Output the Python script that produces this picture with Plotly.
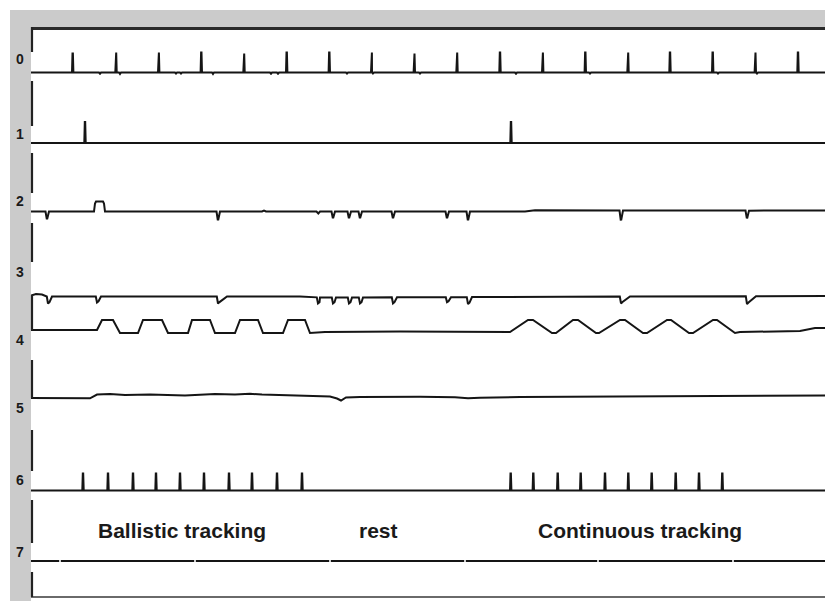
import numpy as np
import plotly.graph_objects as go

# ---------------- data (x: time in screen-sample units, values: deflection, up = positive) -------------
X0, X1 = 31, 833
channel_names = ["0", "1", "2", "3", "4", "5", "6", "7"]

# channel 0 : regular spike train
ch0_spike_t = [72.7, 116, 158.7, 201.3, 244, 286.7, 329.3, 371.7, 414.3, 457, 500, 542.7,
               585.3, 628, 670, 712.7, 755.3, 798]
ch0_spike_h = [19, 20, 20, 20, 19, 20, 20, 20, 19, 20, 20, 20, 20, 20, 20, 20, 20, 20]
ch0_blip_t = [100, 120, 176, 181, 213, 271, 278, 347, 373, 420, 516, 590, 718, 757]
ch0_blip_d = [1.2, 1.5, 1.0, 1.0, 1.5, 1.2, 1.2, 1.0, 1.0, 1.0, 1.2, 1.0, 1.0, 1.0]

# channel 1 : two isolated spikes
ch1_spike_t = [85, 511]
ch1_spike_h = [21, 21]

# channel 2 : dips, one positive pulse, slight level change
ch2_level_t = [X0, 262, 264, 266, 525, 535, 600, 700, 760, X1]
ch2_level_v = [0, 0, 1, 0, 0, 1.2, 0.8, 1.2, 0.8, 1.0]
ch2_dip_t = [47, 218, 318, 333, 349, 360, 393, 447, 468, 621, 747]
ch2_dip_d = [7, 8, 2, 6, 6, 6, 6, 6, 8, 9, 7]
ch2_pulse_t = [95, 104]
ch2_pulse_h = 10

# channel 3 : dips with slow recovery
ch3_level_t = [X0, 36, 42, 46, 300, 320, 520, 600, X1]
ch3_level_v = [1.5, 3.0, 2.5, 0.5, 0.5, -0.5, 0.0, 0.5, 1.0]
ch3_dip_t = [48, 97, 218, 318, 333, 349, 360, 393, 447, 468, 621, 747]
ch3_dip_d = [7, 6, 7, 6, 6, 6, 6, 6, 5, 7, 7, 8]
ch3_dip_r = [4, 4, 9, 3, 3, 3, 3, 4, 4, 4, 9, 9]

# channel 4 : target position (ballistic steps, then continuous ramps)
ch4_t = [31, 97, 102, 113, 120, 138, 143, 162, 168, 188, 192, 210, 215, 235, 240, 258, 263, 283,
         288, 305, 310, 325, 400, 450, 510, 528, 533, 552, 556, 573, 578, 596, 599, 620, 625, 643,
         647, 667, 671, 689, 693, 713, 717, 735, 740, 800, 815, 833]
ch4_v = [3, 3, 13, 13, 0, 0, 13, 13, 0, 0, 13, 13, 0, 0, 13, 13, 0, 0,
         13, 13, 0, 1, 1.5, 1, 1, 13, 13, 0, 0, 13, 13, 0, 0, 13, 13, 0,
         0, 13, 13, 0, 0, 13, 13, 0, 1, 2, 5, 5]

# channel 5 : slow drift
ch5_t = [31, 90, 97, 110, 125, 150, 185, 200, 215, 235, 250, 262, 290, 330, 337, 341, 346, 360,
         420, 455, 468, 480, 520, 600, 700, 760, 833]
ch5_v = [0, -0.3, 3.5, 4, 3, 3.5, 2.5, 3, 4, 3.5, 4.2, 3.5, 2.5, 1.5, -0.5, -2.5, 0.5, 1,
         1.2, 0.8, -0.3, 0.2, 1, 1.5, 1.5, 2, 2.5]

# channel 6 : stimulus markers
ch6_spike_t = [83, 108, 133, 156, 180, 204, 229, 252, 277, 302,
               510.7, 533.3, 557.7, 580.7, 605, 628.3, 651.7, 675.7, 699, 722.3]
ch6_spike_h = [17] * 20

# channel 7 : flat, with small dropouts
ch7_gap_t = [60, 195, 330, 465, 598, 733]

# condition labels
cond_text = ["Ballistic tracking", "rest", "Continuous tracking"]
cond_x = [182, 378, 640]

# ---------------- layout constants (page pixel rows / columns) ----------------
PAGE_OFF = 8            # default body margin of the html page
WIN_W, WIN_H = 833, 601
W, H = WIN_W - PAGE_OFF, WIN_H - PAGE_OFF
PLOT_L, PLOT_R, PLOT_T, PLOT_B = 31, 833, 26, 598   # plot area on the page
ML, MR = PLOT_L - PAGE_OFF, (W + PAGE_OFF) - PLOT_R
MT, MB = PLOT_T - PAGE_OFF, (H + PAGE_OFF) - PLOT_B

base_px = [72.5, 143, 211.5, 297, 333, 398, 490.5, 561]
label_px = [59, 134, 201, 272, 340, 408, 480, 552]
axis_segments_px = [(27, 52), (81, 126), (153, 193), (223, 262), (295, 330),
                    (360, 398), (430, 471), (500, 543), (572, 597)]
cond_y_px = 530


def px_x(px):
    return (px - PLOT_L) / (PLOT_R - PLOT_L)


def px_y(py):
    return (PLOT_B - py) / (PLOT_B - PLOT_T)


def spikes(t_list, h_list, half=0.7):
    xs, vs = [], []
    for t, h in zip(t_list, h_list):
        xs += [t - half, t - 0.2, t + 0.2, t + half]
        vs += [0, h, h, 0]
    return xs, vs


def build(level_t, level_v, ev_x, ev_v):
    xs = list(level_t) + list(ev_x)
    lv = np.interp(ev_x, level_t, level_v) if len(ev_x) else []
    vs = list(level_v) + [a + b for a, b in zip(lv, ev_v)]
    order = np.argsort(xs, kind="stable")
    return [xs[i] for i in order], [vs[i] for i in order]


traces = []

# ch0
sx, sv = spikes(ch0_spike_t, ch0_spike_h)
bx, bv = [], []
for t, d in zip(ch0_blip_t, ch0_blip_d):
    bx += [t - 1, t, t + 1]
    bv += [0, -d, 0]
x, v = build([X0, X1], [0, 0], sx + bx, sv + bv)
traces.append((0, x, v))

# ch1
sx, sv = spikes(ch1_spike_t, ch1_spike_h)
x, v = build([X0, X1], [0, 0], sx, sv)
traces.append((1, x, v))

# ch2
ex, ev = [], []
for t, d in zip(ch2_dip_t, ch2_dip_d):
    ex += [t - 1.5, t - 0.3, t + 0.3, t + 2]
    ev += [0, -d, -d, 0]
p0, p1 = ch2_pulse_t
ex += [p0 - 1, p0, p0 + 1, p1 - 1, p1, p1 + 1]
ev += [0, ch2_pulse_h * 0.8, ch2_pulse_h, ch2_pulse_h, ch2_pulse_h * 0.8, 0]
x, v = build(ch2_level_t, ch2_level_v, ex, ev)
traces.append((2, x, v))

# ch3
ex, ev = [], []
for t, d, r in zip(ch3_dip_t, ch3_dip_d, ch3_dip_r):
    ex += [t - 1.2, t, t + 1.5, t + r]
    ev += [0, -d, -d * 0.8, 0]
x, v = build(ch3_level_t, ch3_level_v, ex, ev)
traces.append((3, x, v))

# ch4
traces.append((4, list(ch4_t), list(ch4_v)))

# ch5
traces.append((5, list(ch5_t), list(ch5_v)))

# ch6
sx, sv = spikes(ch6_spike_t, ch6_spike_h)
x, v = build([X0, X1], [0, 0], sx, sv)
traces.append((6, x, v))

# ch7 (flat with dropouts)
x7, v7 = [X0], [0]
for g in ch7_gap_t:
    x7 += [g - 0.8, None, g + 0.8]
    v7 += [0, None, 0]
x7.append(X1)
v7.append(0)
traces.append((7, x7, v7))

fig = go.Figure()
for ch, x, v in traces:
    y = [None if val is None else base_px[ch] - val for val in v]
    fig.add_trace(go.Scatter(x=x, y=y, mode="lines", name=channel_names[ch],
                             line=dict(color="#151515", width=2), hoverinfo="skip",
                             showlegend=False))

shapes = []
GRAY = "#cbcbcb"
# gray frame strips
shapes.append(dict(type="rect", xref="paper", yref="paper", layer="below",
                   x0=px_x(10), x1=px_x(31), y0=px_y(WIN_H + 2), y1=px_y(10),
                   fillcolor=GRAY, line=dict(width=0)))
shapes.append(dict(type="rect", xref="paper", yref="paper", layer="below",
                   x0=px_x(10), x1=px_x(WIN_W + 2), y0=px_y(27), y1=px_y(10),
                   fillcolor=GRAY, line=dict(width=0)))
# top border
shapes.append(dict(type="line", xref="paper", yref="paper", x0=px_x(31), x1=px_x(WIN_W + 2),
                   y0=px_y(28.5), y1=px_y(28.5), line=dict(color="#2a2a2a", width=3)))
# bottom border
shapes.append(dict(type="line", xref="paper", yref="paper", x0=px_x(31), x1=px_x(WIN_W + 2),
                   y0=px_y(597), y1=px_y(597), line=dict(color="#6a6a6a", width=2)))
# broken left axis
for a, b in axis_segments_px:
    shapes.append(dict(type="line", xref="paper", yref="paper", x0=px_x(32), x1=px_x(32),
                       y0=px_y(a), y1=px_y(b), line=dict(color="#222222", width=2.2)))

annotations = []
for name, lp in zip(channel_names, label_px):
    annotations.append(dict(text="<b>" + name + "</b>", xref="paper", yref="paper",
                            x=px_x(20), y=px_y(lp), xanchor="center", yanchor="middle",
                            showarrow=False,
                            font=dict(family="Liberation Sans, Arial", size=14, color="#1a1a1a")))
for txt, cx in zip(cond_text, cond_x):
    annotations.append(dict(text="<b>" + txt + "</b>", x=cx, y=cond_y_px, xref="x", yref="y",
                            xanchor="center", yanchor="middle", showarrow=False,
                            font=dict(family="Liberation Sans, Arial", size=21, color="#1a1a1a")))

fig.update_layout(
    width=W, height=H,
    margin=dict(l=ML, r=MR, t=MT, b=MB, pad=0),
    paper_bgcolor="white", plot_bgcolor="white",
    xaxis=dict(range=[X0, X1], visible=False, fixedrange=True),
    yaxis=dict(range=[PLOT_B, PLOT_T], visible=False, fixedrange=True),
    shapes=shapes, annotations=annotations,
)

fig.write_html("out.html")
